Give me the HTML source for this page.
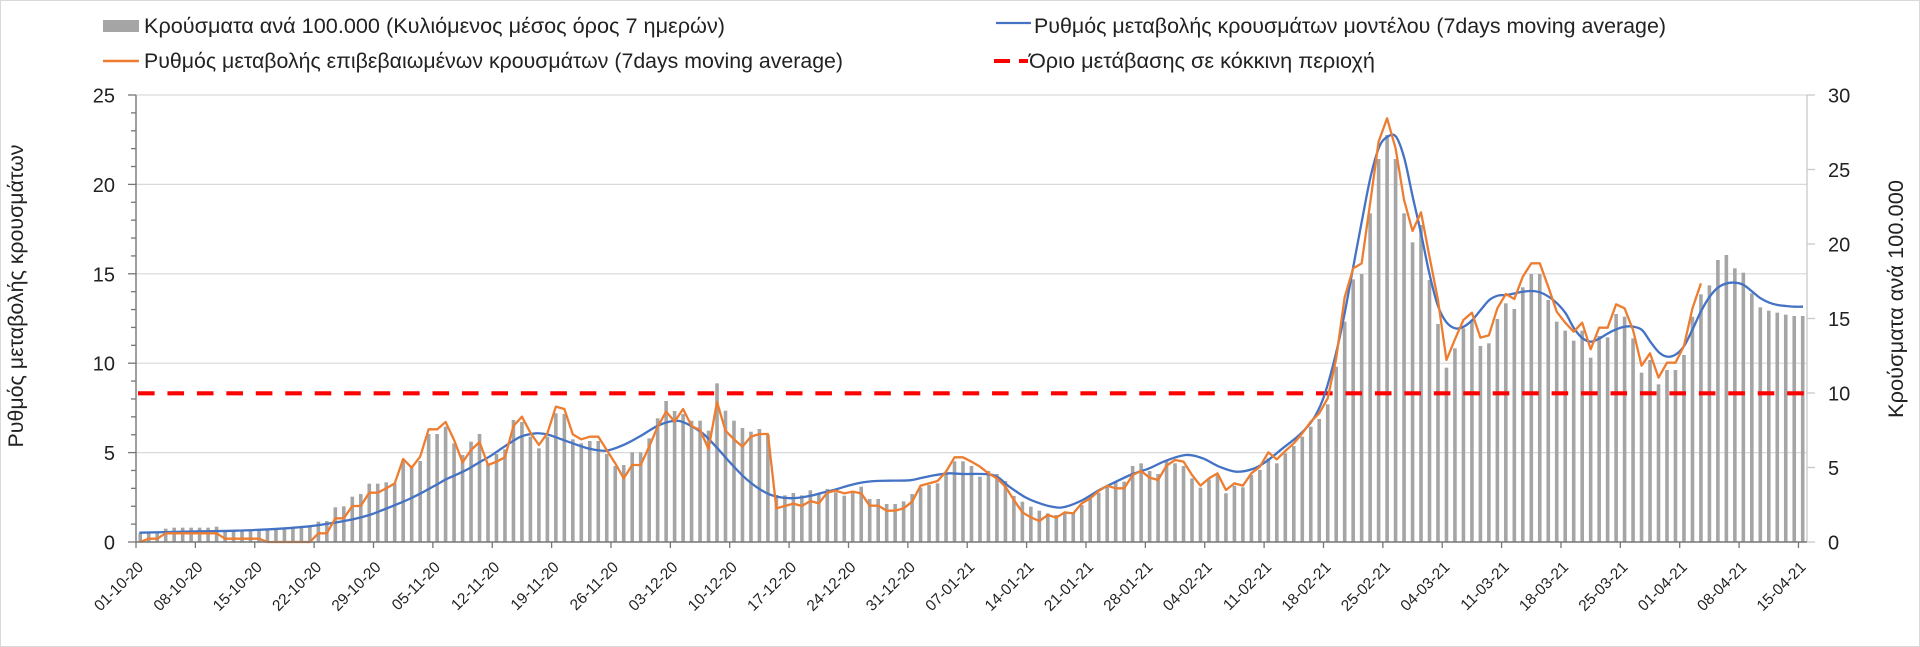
<!DOCTYPE html>
<html>
<head>
<meta charset="utf-8">
<style>
html,body{margin:0;padding:0;background:#fff;}
svg{display:block;}
text{font-family:"Liberation Sans","DejaVu Sans",sans-serif;fill:#222;}
</style>
</head>
<body>
<svg width="1920" height="647" viewBox="0 0 1920 647">
<rect x="0.5" y="0.5" width="1919" height="646" fill="#ffffff" stroke="#d9d9d9" stroke-width="1"/>

<!-- legend -->
<rect x="103" y="20" width="36" height="12" fill="#a5a5a5"/>
<text x="144" y="33" font-size="21" textLength="581" lengthAdjust="spacingAndGlyphs">Κρούσματα ανά 100.000 (Κυλιόμενος μέσος όρος 7 ημερών)</text>
<line x1="103" y1="61" x2="139" y2="61" stroke="#ed7d31" stroke-width="2.5"/>
<text x="144" y="68" font-size="21" textLength="699" lengthAdjust="spacingAndGlyphs">Ρυθμός μεταβολής επιβεβαιωμένων κρουσμάτων (7days moving average)</text>
<line x1="996" y1="23" x2="1031" y2="23" stroke="#4472c4" stroke-width="2.3"/>
<text x="1034" y="33" font-size="21" textLength="632" lengthAdjust="spacingAndGlyphs">Ρυθμός μεταβολής κρουσμάτων μοντέλου (7days moving average)</text>
<line x1="994" y1="61" x2="1010" y2="61" stroke="#ff0000" stroke-width="4"/>
<line x1="1019" y1="61" x2="1028" y2="61" stroke="#ff0000" stroke-width="4"/>
<text x="1029" y="68" font-size="21" textLength="346" lengthAdjust="spacingAndGlyphs">Όριο μετάβασης σε κόκκινη περιοχή</text>

<!-- gridlines -->
<g stroke="#d9d9d9" stroke-width="1.2">
<line x1="136" y1="95" x2="1807" y2="95"/>
<line x1="136" y1="184.4" x2="1807" y2="184.4"/>
<line x1="136" y1="273.8" x2="1807" y2="273.8"/>
<line x1="136" y1="363.2" x2="1807" y2="363.2"/>
<line x1="136" y1="452.6" x2="1807" y2="452.6"/>
</g>

<g id="bars" fill="#a5a5a5"></g>
<g id="red"></g>
<g id="lines"></g>

<!-- axes -->
<line x1="136" y1="95" x2="136" y2="542" stroke="#767676" stroke-width="1.4"/>
<line x1="1807" y1="95" x2="1807" y2="542" stroke="#c8c8c8" stroke-width="1.3"/>
<line x1="136" y1="542" x2="1807" y2="542" stroke="#767676" stroke-width="1.4"/>
<g id="ticks" stroke="#767676" stroke-width="1.3"></g>

<!-- left tick labels -->
<g font-size="20" text-anchor="end">
<text x="115" y="549.5">0</text>
<text x="115" y="460.1">5</text>
<text x="115" y="370.7">10</text>
<text x="115" y="281.3">15</text>
<text x="115" y="191.9">20</text>
<text x="115" y="102.5">25</text>
</g>
<!-- right tick labels -->
<g font-size="20">
<text x="1828" y="549.5">0</text>
<text x="1828" y="475">5</text>
<text x="1828" y="400.5">10</text>
<text x="1828" y="326">15</text>
<text x="1828" y="251.5">20</text>
<text x="1828" y="177">25</text>
<text x="1828" y="102.5">30</text>
</g>

<!-- axis titles -->
<text transform="translate(23,296) rotate(-90)" font-size="21" text-anchor="middle" textLength="303" lengthAdjust="spacingAndGlyphs">Ρυθμός μεταβολής κρουσμάτων</text>
<text transform="translate(1903,299) rotate(-90)" font-size="21" text-anchor="middle" textLength="238" lengthAdjust="spacingAndGlyphs">Κρούσματα ανά 100.000</text>

<!-- x labels -->
<g font-size="15.5" text-anchor="end">
<text transform="translate(144.2,568) rotate(-45)">01-10-20</text>
<text transform="translate(203.6,568) rotate(-45)">08-10-20</text>
<text transform="translate(263.0,568) rotate(-45)">15-10-20</text>
<text transform="translate(322.4,568) rotate(-45)">22-10-20</text>
<text transform="translate(381.7,568) rotate(-45)">29-10-20</text>
<text transform="translate(441.1,568) rotate(-45)">05-11-20</text>
<text transform="translate(500.5,568) rotate(-45)">12-11-20</text>
<text transform="translate(559.9,568) rotate(-45)">19-11-20</text>
<text transform="translate(619.2,568) rotate(-45)">26-11-20</text>
<text transform="translate(678.6,568) rotate(-45)">03-12-20</text>
<text transform="translate(738.0,568) rotate(-45)">10-12-20</text>
<text transform="translate(797.4,568) rotate(-45)">17-12-20</text>
<text transform="translate(856.7,568) rotate(-45)">24-12-20</text>
<text transform="translate(916.1,568) rotate(-45)">31-12-20</text>
<text transform="translate(975.5,568) rotate(-45)">07-01-21</text>
<text transform="translate(1034.9,568) rotate(-45)">14-01-21</text>
<text transform="translate(1094.2,568) rotate(-45)">21-01-21</text>
<text transform="translate(1153.6,568) rotate(-45)">28-01-21</text>
<text transform="translate(1213.0,568) rotate(-45)">04-02-21</text>
<text transform="translate(1272.4,568) rotate(-45)">11-02-21</text>
<text transform="translate(1331.7,568) rotate(-45)">18-02-21</text>
<text transform="translate(1391.1,568) rotate(-45)">25-02-21</text>
<text transform="translate(1450.5,568) rotate(-45)">04-03-21</text>
<text transform="translate(1509.8,568) rotate(-45)">11-03-21</text>
<text transform="translate(1569.2,568) rotate(-45)">18-03-21</text>
<text transform="translate(1628.6,568) rotate(-45)">25-03-21</text>
<text transform="translate(1688.0,568) rotate(-45)">01-04-21</text>
<text transform="translate(1747.3,568) rotate(-45)">08-04-21</text>
<text transform="translate(1806.7,568) rotate(-45)">15-04-21</text>
</g>
</svg>

<script>
(function(){
var W=8.482, X0=136, BASE=542;
function cx(i){return X0+(i+0.5)*W;}
var A=[700,700,700,686,683,683,683,683,683,680,693,693,693,693,690,690,690,687,685,683,680,665,663,622,619,590,582,551,551,547,550,478,502,483,402,402,380,430,465,425,402,492,462,448,360,366,410,445,410,340];
var B=[342,418,430,423,423,462,498,495,457,457,415,355,303,333,342,362,362,392,250,332,362,384,395,387,405,585,586,579,586,571,583,567,577,587,578,560,597,597,612,612,604,582,563,555,550,520,484,484,498];
var C=[1130,1113,1122,1143,1188,1205,1220,1232,1240,1245,1237,1237,1215,1195,1178,1160,1145,1145,1098,1090,1113,1122,1083,1090,1098,1135,1163,1138,1125,1180,1157,1162,1125,1110,1075,1090,1060,1038,1010,980,957,913,800,665,538,522,340,177,105,177];
var D=[340,427,375,540,672,803,745,685,660,738,730,657,610,627,562,522,522,600,665,692,722,692,773,708,712,642,650,715,818,780,853,810,810,765,650,583,556,480,465,505,518,580,622,632,638,644,648,648];
var tops=[];
A.forEach(function(v){tops.push(300+v/3);});
B.forEach(function(v){tops.push(300+v/3);});
C.forEach(function(v){tops.push(100+v/3);});
D.forEach(function(v){tops.push(100+v/3);});
var s='';
tops.forEach(function(t,i){
  s+='<rect x="'+(cx(i)-1.8).toFixed(2)+'" y="'+t.toFixed(2)+'" width="3.6" height="'+(BASE-t).toFixed(2)+'"/>';
});
document.getElementById('bars').innerHTML=s;

// red threshold
document.getElementById('red').innerHTML='<line x1="138" y1="393.3" x2="1806" y2="393.3" stroke="#ff0000" stroke-width="4.2" stroke-dasharray="16.6 12.85"/>';

// orange
var OA=[726,716,716,700,700,700,700,700,700,700,716,716,716,716,716,726,726,726,726,726,726,700,700,655,655,618,618,578,578,565,550,477,503,470,388,388,366,420,487,450,426,495,485,472,378,350,398,435,400,320];
var OB=[327,403,418,410,410,450,490,535,495,495,440,380,335,365,327,378,390,447,306,392,418,440,410,402,402,625,618,611,618,603,610,578,572,580,575,580,617,617,632,632,625,605,557,550,543,515,472,472,485];
var OC=[1100,1120,1135,1160,1200,1237,1252,1263,1245,1253,1237,1240,1210,1195,1173,1157,1165,1165,1125,1113,1133,1140,1097,1080,1085,1125,1157,1135,1120,1170,1150,1157,1120,1100,1057,1078,1053,1030,1000,965,940,895,775,592,505,490,310,125,55,145];
var OD=[300,393,337,470,600,780,718,660,638,713,706,625,582,597,530,490,490,560,635,668,695,668,748,683,683,613,625,690,797,760,833,788,788,738,625,550];
var oy=[];
OA.forEach(function(v){oy.push(300+v/3);});
OB.forEach(function(v){oy.push(300+v/3);});
OC.forEach(function(v){oy.push(100+v/3);});
OD.forEach(function(v){oy.push(100+v/3);});
var op=oy.map(function(y,i){return cx(i).toFixed(2)+','+y.toFixed(2);}).join(' ');

// blue
var BA=[[10,698],[100,696],[200,694],[300,692],[400,688],[450,685],[520,679],[570,672],[650,658],[700,645],[740,630],[780,614],[820,597],[860,577],[900,555],[930,538],[970,520],[1000,505],[1030,487],[1060,470],[1090,450],[1120,430],[1150,412],[1170,405],[1200,400],[1220,401],[1240,405]];
var BB=[[0,412],[50,430],[100,446],[150,452],[200,436],[250,410],[300,380],[340,365],[370,363],[400,375],[440,400],[480,440],[520,485],[560,527],[600,560],[640,583],[680,593],[720,594],[760,588],[800,578],[840,568],[880,556],[920,547],[960,543],[1000,542],[1060,541],[1100,533],[1140,525],[1180,520],[1220,522]];
var BC=[[50,1125],[100,1160],[150,1193],[200,1213],[240,1222],[270,1220],[320,1200],[370,1170],[420,1145],[470,1122],[520,1105],[570,1082],[630,1065],[680,1075],[730,1100],[780,1115],[830,1107],[870,1085],[920,1045],[970,1005],[1010,960],[1040,900],[1070,800],[1100,670],[1130,510],[1160,350],[1185,225],[1210,140],[1235,110]];
var BD=[[0,110],[25,175],[50,290],[75,400],[100,520],[125,615],[150,665],[178,685],[203,680],[229,660],[254,630],[280,600],[305,587],[331,585],[356,580],[382,575],[407,573],[432,577],[458,590],[483,610],[509,640],[534,685],[560,715],[585,725],[611,715],[636,700],[661,688],[687,680],[712,680],[738,690],[763,725],[789,757],[814,770],[840,763],[865,737],[891,685],[916,632],[941,590],[967,562],[992,550],[1018,548],[1043,555],[1069,575],[1094,595],[1120,608],[1145,615],[1170,618],[1196,620],[1221,620]];
var bp=[];
function add(arr,x0,y0){arr.forEach(function(p){bp.push([x0+p[0]/3,y0+p[1]/3]);});}
add(BA,136,300);add(BB,556,300);add(BC,976,100);add(BD,1396,100);
function smooth(p){
  var d='M'+p[0][0].toFixed(2)+','+p[0][1].toFixed(2);
  for(var i=0;i<p.length-1;i++){
    var p0=p[i-1]||p[i],p1=p[i],p2=p[i+1],p3=p[i+2]||p2;
    var c1x=p1[0]+(p2[0]-p0[0])/6,c1y=p1[1]+(p2[1]-p0[1])/6;
    var c2x=p2[0]-(p3[0]-p1[0])/6,c2y=p2[1]-(p3[1]-p1[1])/6;
    d+='C'+c1x.toFixed(2)+','+c1y.toFixed(2)+' '+c2x.toFixed(2)+','+c2y.toFixed(2)+' '+p2[0].toFixed(2)+','+p2[1].toFixed(2);
  }
  return d;
}
document.getElementById('lines').innerHTML=
 '<path d="'+smooth(bp)+'" fill="none" stroke="#4472c4" stroke-width="2.3" stroke-linejoin="round"/>'+
 '<polyline points="'+op+'" fill="none" stroke="#ed7d31" stroke-width="2.3" stroke-linejoin="round"/>';

// ticks
var t='';
for(var v=0;v<=25;v++){
  var y=(BASE-v*17.88).toFixed(2);
  if(v%5===0){t+='<line x1="128" y1="'+y+'" x2="136" y2="'+y+'"/>';}
  else{t+='<line x1="131" y1="'+y+'" x2="136" y2="'+y+'"/>';}
}
for(var k=0;k<=28;k++){
  var x=(X0+7*k*W).toFixed(2);
  t+='<line x1="'+x+'" y1="542" x2="'+x+'" y2="548"/>';
}
for(var r=0;r<=6;r++){
  var yy=(BASE-r*74.5).toFixed(2);
  t+='<line x1="1807" y1="'+yy+'" x2="1815" y2="'+yy+'" stroke="#c8c8c8"/>';
}
document.getElementById('ticks').innerHTML=t;
})();
</script>
</body>
</html>
